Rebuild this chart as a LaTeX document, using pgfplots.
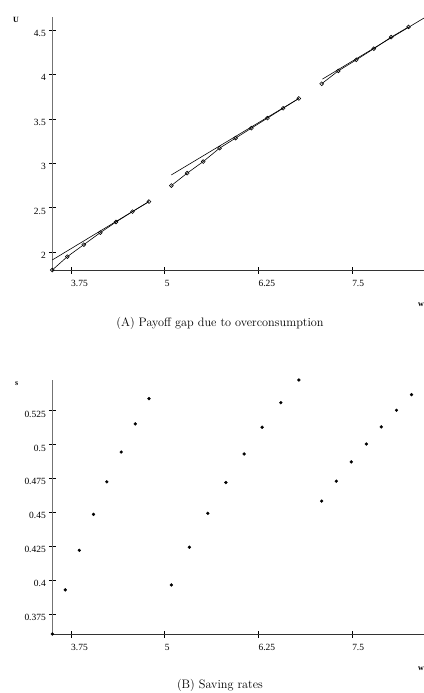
\documentclass[border=0pt]{standalone}
\usepackage{fontspec}
\usepackage{pgfplots}
\pgfplotsset{compat=1.18}
\newfontfamily\tnr{Liberation Serif}

\pgfplotsset{
  panel/.style={
    scale only axis,
    width=371.7bp,
    xmin=3.5, xmax=8.46,
    axis lines=left,
    axis line style={-},
    x axis line style={black!80, line width=0.9bp},
    y axis line style={black!55, line width=0.9bp},
    tick align=center,
    major tick length=7bp,
    tick style={black, line width=0.7bp},
    xtick={3.75,5,6.25,7.5},
    xticklabels={3.75,5,6.25,7.5},
    /pgf/number format/assume math mode=true,
    ticklabel style={font=\tnr\fontsize{9.5}{10}\selectfont, inner sep=0pt},
    xticklabel style={anchor=north west, yshift=-6.5bp},
    yticklabel style={anchor=north east, xshift=-2.8bp},
    clip=false,
  },
  seg/.style={black, line width=0.6bp, mark=o, mark size=1.9bp, mark options={solid, line width=0.6bp, fill=white}},
  fit/.style={black, line width=0.6bp, no marks},
  dots/.style={only marks, mark=*, mark size=1.45bp, black},
}

\begin{document}
\begin{tikzpicture}
\path[use as bounding box] (0,0) rectangle (424bp,-693bp);

% (A) payoff
\begin{axis}[panel, at={(52.3bp,-270bp)}, anchor=south west,
  height=253.3bp, ymin=1.8, ymax=4.65,
  ytick={2,2.5,3,3.5,4,4.5}, yticklabels={2,2.5,3,3.5,4,4.5}]
\addplot[fit] coordinates {(3.5,1.913) (4.79,2.57)};
\addplot[seg] coordinates {(3.5,1.80) (3.70,1.95) (3.92,2.085) (4.14,2.22) (4.35,2.34) (4.57,2.457) (4.79,2.57)};
\addplot[fit] coordinates {(5.089,2.87) (6.79,3.73)};
\addplot[seg] coordinates {(5.089,2.75) (5.30,2.89) (5.514,3.02) (5.732,3.171) (5.946,3.284) (6.157,3.396) (6.371,3.509) (6.58,3.62) (6.79,3.73)};
\addplot[fit] coordinates {(7.105,3.948) (8.46,4.635)};
\addplot[seg] coordinates {(7.094,3.895) (7.316,4.04) (7.557,4.165) (7.79,4.29) (8.022,4.42) (8.254,4.535)};
\end{axis}

% (B) saving rates
\begin{axis}[panel, at={(52.3bp,-634bp)}, anchor=south west,
  height=254bp, ymin=0.3603, ymax=0.5476,
  ytick={0.375,0.4,0.425,0.45,0.475,0.5,0.525},
  yticklabels={0.375,0.4,0.425,0.45,0.475,0.5,0.525}]
\addplot[dots] coordinates {(3.5,0.3603) (3.673,0.3928) (3.861,0.422) (4.05,0.4485) (4.228,0.4725) (4.42,0.4945) (4.607,0.5152) (4.79,0.5339)};
\addplot[dots] coordinates {(5.089,0.3965) (5.33,0.4243) (5.575,0.4493) (5.816,0.472) (6.06,0.4931) (6.30,0.5128) (6.55,0.5309) (6.79,0.5476)};
\addplot[dots] coordinates {(7.094,0.4583) (7.29,0.473) (7.49,0.4872) (7.69,0.5004) (7.89,0.513) (8.093,0.5253) (8.294,0.5368)};
\end{axis}

\begin{scope}[every node/.style={font=\tnr\bfseries\fontsize{8}{9}\selectfont, inner sep=0pt}]
\node at (15.9bp,-20bp) {U};
\node at (16.7bp,-384bp) {s};
\node at (421bp,-305bp) {w};
\node at (421bp,-669bp) {w};
\end{scope}

\node[font=\fontsize{12.3}{14}\selectfont] at (220bp,-323bp) {(A) Payoff gap due to overconsumption};
\node[font=\fontsize{12.3}{14}\selectfont] at (220bp,-685bp) {(B) Saving rates};
\end{tikzpicture}
\end{document}
